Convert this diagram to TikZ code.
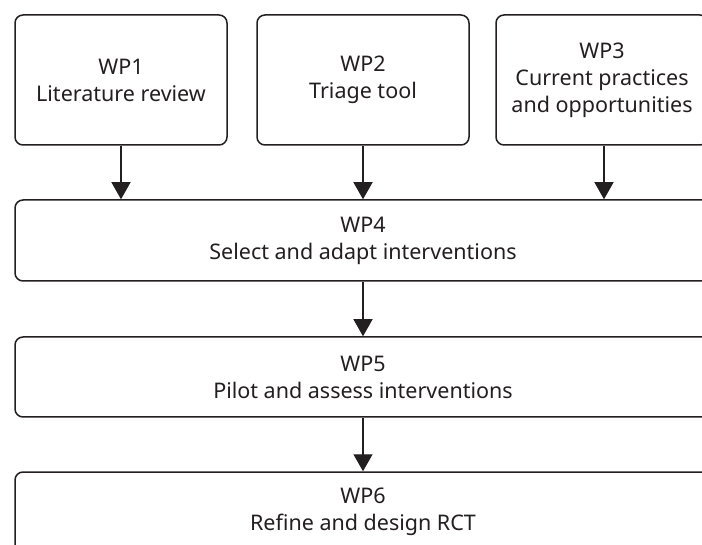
\documentclass[tikz,border=0pt]{standalone}
\usepackage{fontspec}
\setmainfont{Noto Sans}
\usetikzlibrary{arrows.meta}
\definecolor{ink}{HTML}{231F20}
\tikzset{
  wpbox/.style={draw=ink, line width=1.5pt, rounded corners=8pt, align=center,
    inner sep=0pt, text=ink, font=\fontsize{21.5pt}{27pt}\selectfont},
  smallbox/.style={wpbox, minimum width=212pt, minimum height=130pt},
  widebox/.style={wpbox, minimum width=696pt, minimum height=80pt},
  arr/.style={draw=ink, line width=1.3pt, -{Triangle[width=19pt,length=17pt]}}
}
\begin{document}
\begin{tikzpicture}[x=1pt,y=-1pt]
\clip (0,0) rectangle (702,545);
\fill[white] (0,0) rectangle (702,545);
\node[smallbox] (wp1) at (121,80) {WP1\\Literature review};
\node[smallbox] (wp2) at (363,80) {WP2\\Triage tool};
\node[smallbox] (wp3) at (602,80) {WP3\\Current practices\\and opportunities};
\node[widebox, minimum height=81pt] (wp4) at (363,240.5) {WP4\\Select and adapt interventions};
\node[widebox] (wp5) at (363,377) {WP5\\Pilot and assess interventions};
\node[widebox] (wp6) at (363,512) {WP6\\Refine and design RCT};
\draw[arr] (wp1.south) -- (wp1.south |- wp4.north);
\draw[arr] (wp2.south) -- (wp4.north);
\draw[arr] ([xshift=2pt]wp3.south) -- ([xshift=2pt]wp3.south |- wp4.north);
\draw[arr] (wp4.south) -- (wp5.north);
\draw[arr] (wp5.south) -- (wp6.north);
\end{tikzpicture}
\end{document}
